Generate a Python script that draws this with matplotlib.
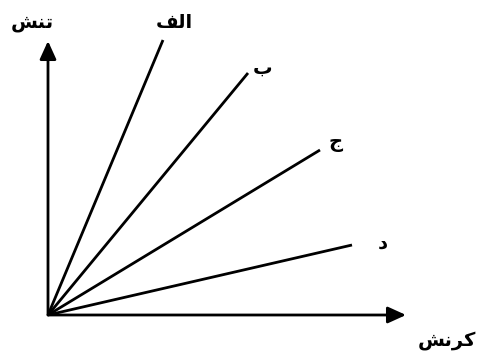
import matplotlib.pyplot as plt

# line labels (Arabic presentation forms, visual order)
labels = ["\uFED2\uFEDF\uFE8D", "\uFE8F", "\uFE9D", "\uFEA9"]  # الف ب ج د
strain_end = [115, 200, 272, 304]
stress_end = [275, 242, 165, 70]
label_x = [126, 215, 288, 335]
label_y = [292, 247, 173, 72]

x_title = "\uFEB6\uFEE7\uFEAE\uFEDB"  # کرنش
y_title = "\uFEB6\uFEE8\uFE97"  # تنش
x_max = 358
y_max = 274

fig = plt.figure(figsize=(4.85, 3.53), dpi=100)
ax = fig.add_axes([0, 0, 1, 1])
ax.set_xlim(-48, 437)
ax.set_ylim(-38, 315)
ax.axis('off')

for sx, sy in zip(strain_end, stress_end):
    ax.plot([0, sx], [0, sy], color='black', lw=2.0, solid_capstyle='butt')

arrow = dict(arrowstyle='-|>,head_length=1.1,head_width=0.5', color='black',
             lw=2.0, shrinkA=0, shrinkB=0)
ax.annotate('', xy=(x_max, 0), xytext=(0, 0), arrowprops=arrow)
ax.annotate('', xy=(0, y_max), xytext=(0, 0), arrowprops=arrow)

for t, lx, ly in zip(labels, label_x, label_y):
    ax.text(lx, ly, t, fontsize=14, fontweight='bold', ha='center', va='center',
            family='DejaVu Sans')

ax.text(-16, 293, y_title, fontsize=14, fontweight='bold', ha='center', va='center',
        family='DejaVu Sans')
ax.text(399, -25, x_title, fontsize=14, fontweight='bold', ha='center', va='center',
        family='DejaVu Sans')

fig.savefig('out.png', dpi=100)
